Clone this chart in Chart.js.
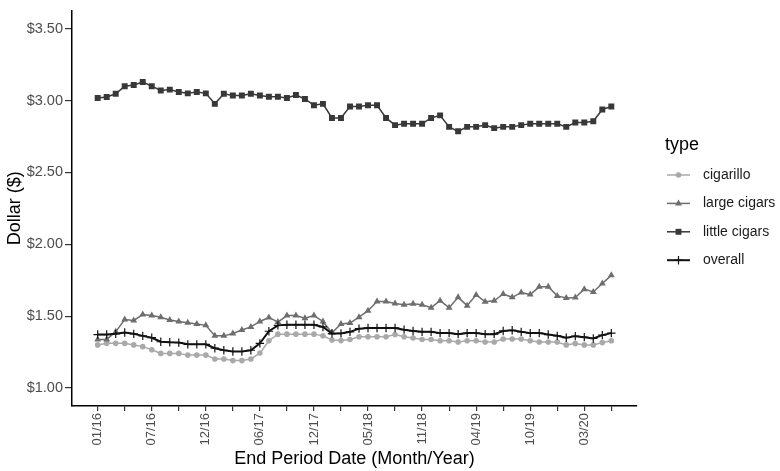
<!DOCTYPE html>
<html>
<head>
<meta charset="utf-8">
<script src="https://cdn.jsdelivr.net/npm/chart.js@4.4.1/dist/chart.umd.min.js"></script>
<style>
  html, body { margin: 0; padding: 0; background: #fff; }
  canvas { display: block; }
</style>
</head>
<body>
<canvas id="myChart" width="780" height="471"></canvas>
<script>
// 4-week periods, Jan 2016 .. Jun 2020 (58 periods)
const periods = Array.from({length: 58}, (_, i) => i)
const tickLabels = ['01/16', '07/16', '12/16', '06/17', '12/17', '05/18', '11/18', '04/19', '10/19', '03/20']
const yTicks = [1.0, 1.5, 2.0, 2.5, 3.0, 3.5]

const cigarillo = [
  1.300, 1.311, 1.311, 1.311, 1.300, 1.288, 1.266, 1.241, 1.241, 1.241,
  1.229, 1.229, 1.229, 1.202, 1.202, 1.191, 1.191, 1.202, 1.243, 1.329,
  1.375, 1.375, 1.375, 1.375, 1.375, 1.363, 1.334, 1.330, 1.338, 1.357,
  1.357, 1.357, 1.357, 1.372, 1.357, 1.348, 1.338, 1.338, 1.329, 1.329,
  1.320, 1.329, 1.329, 1.320, 1.320, 1.341, 1.341, 1.341, 1.329, 1.320,
  1.320, 1.320, 1.300, 1.309, 1.300, 1.300, 1.316, 1.329
]
const largeCigars = [
  1.338, 1.338, 1.391, 1.477, 1.470, 1.511, 1.504, 1.493, 1.474, 1.463,
  1.454, 1.445, 1.436, 1.363, 1.363, 1.379, 1.404, 1.425, 1.463, 1.491,
  1.459, 1.504, 1.504, 1.486, 1.504, 1.463, 1.384, 1.445, 1.452, 1.493,
  1.538, 1.602, 1.602, 1.588, 1.579, 1.586, 1.579, 1.559, 1.607, 1.559,
  1.631, 1.573, 1.648, 1.600, 1.607, 1.654, 1.631, 1.665, 1.650, 1.704,
  1.704, 1.641, 1.627, 1.629, 1.688, 1.668, 1.727, 1.784
]
const littleCigars = [
  3.018, 3.025, 3.047, 3.100, 3.108, 3.129, 3.100, 3.070, 3.076, 3.060,
  3.050, 3.060, 3.050, 2.977, 3.047, 3.035, 3.035, 3.047, 3.035, 3.027,
  3.027, 3.018, 3.038, 3.011, 2.967, 2.977, 2.879, 2.879, 2.958, 2.958,
  2.967, 2.967, 2.879, 2.829, 2.838, 2.838, 2.838, 2.879, 2.897, 2.817,
  2.786, 2.817, 2.817, 2.829, 2.808, 2.817, 2.817, 2.829, 2.838, 2.838,
  2.838, 2.838, 2.817, 2.847, 2.847, 2.856, 2.938, 2.958
]
const overall = [
  1.372, 1.372, 1.377, 1.386, 1.377, 1.363, 1.350, 1.322, 1.318, 1.316,
  1.304, 1.304, 1.304, 1.277, 1.263, 1.254, 1.254, 1.263, 1.311, 1.395,
  1.436, 1.440, 1.440, 1.440, 1.440, 1.425, 1.379, 1.380, 1.391, 1.413,
  1.418, 1.418, 1.418, 1.418, 1.406, 1.397, 1.391, 1.391, 1.382, 1.382,
  1.375, 1.382, 1.382, 1.375, 1.375, 1.397, 1.402, 1.391, 1.382, 1.382,
  1.372, 1.363, 1.350, 1.361, 1.354, 1.345, 1.368, 1.382
]

const FONT = 'Arial, "Liberation Sans", sans-serif'
const tickPositions = periods.filter(p => p % 3 === 0)

function series(label, values, color, style, radius, lineWidth, order) {
  return {
    label: label,
    data: values,
    borderColor: color,
    backgroundColor: color,
    borderWidth: lineWidth,
    pointStyle: style,
    pointRadius: radius,
    pointBackgroundColor: color,
    pointBorderColor: color,
    pointBorderWidth: style === 'cross' ? 1.2 : 0,
    tension: 0,
    order: order
  }
}

function marker(c, style, x, y, r) {
  c.beginPath()
  if (style === 'circle') {
    c.arc(x, y, r, 0, Math.PI * 2)
    c.fill()
  } else if (style === 'rect') {
    const s = Math.SQRT1_2 * r
    c.rect(x - s, y - s, 2 * s, 2 * s)
    c.fill()
  } else if (style === 'triangle') {
    let a = 0
    c.moveTo(x + Math.sin(a) * r, y - Math.cos(a) * r)
    a += Math.PI * 2 / 3
    c.lineTo(x + Math.sin(a) * r, y - Math.cos(a) * r)
    a += Math.PI * 2 / 3
    c.lineTo(x + Math.sin(a) * r, y - Math.cos(a) * r)
    c.closePath()
    c.fill()
  } else if (style === 'cross') {
    c.lineWidth = 1.2
    c.moveTo(x, y - r); c.lineTo(x, y + r)
    c.moveTo(x - r, y); c.lineTo(x + r, y)
    c.stroke()
  }
}

// ggplot-style legend on the right
const typeLegend = {
  id: 'typeLegend',
  afterDraw(chart) {
    const c = chart.ctx
    c.save()
    c.textBaseline = 'middle'
    c.fillStyle = '#000'
    c.font = '18px ' + FONT
    c.fillText('type', 665, 145)
    c.font = '14px ' + FONT
    chart.data.datasets.forEach((ds, i) => {
      const y = 175 + i * 28.4
      c.strokeStyle = ds.borderColor
      c.fillStyle = ds.borderColor
      c.lineWidth = ds.borderWidth
      c.beginPath()
      c.moveTo(667, y); c.lineTo(690, y)
      c.stroke()
      marker(c, ds.pointStyle, 678.5, y, ds.pointRadius)
      c.fillStyle = '#1a1a1a'
      c.fillText(ds.label, 703, y)
    })
    c.restore()
  }
}

const ctx = document.getElementById('myChart')
new Chart(ctx, {
  type: 'line',
  data: {
    labels: periods,
    datasets: [
      series('cigarillo', cigarillo, '#a9a9a9', 'circle', 2.8, 1.5, 3),
      series('large cigars', largeCigars, '#6e6e6e', 'triangle', 4, 1.5, 2),
      series('little cigars', littleCigars, '#383838', 'rect', 4.2, 1.5, 1),
      series('overall', overall, '#111111', 'cross', 4.2, 2, 0)
    ]
  },
  options: {
    responsive: false,
    animation: false,
    layout: {padding: {top: 2, right: 143, left: 0, bottom: 0}},
    plugins: {legend: {display: false}, tooltip: {enabled: false}},
    scales: {
      x: {
        type: 'linear',
        min: -2.85,
        max: 59.85,
        afterBuildTicks: s => { s.ticks = tickPositions.map(v => ({value: v})) },
        afterFit: s => { s.height = 65 },
        grid: {drawOnChartArea: false, drawTicks: true, tickLength: 5, color: '#333', lineWidth: 1.2},
        border: {display: true, color: '#000', width: 1.5},
        ticks: {
          autoSkip: false, maxRotation: 90, minRotation: 90, padding: 2,
          color: '#4d4d4d', font: {family: FONT, size: 13},
          callback: v => v % 6 === 0 ? tickLabels[v / 6] : ''
        },
        title: {
          display: true, text: 'End Period Date (Month/Year)', color: '#000',
          font: {family: FONT, size: 18}, padding: {top: 0, bottom: 1}
        }
      },
      y: {
        min: 0.875,
        max: 3.625,
        afterBuildTicks: s => { s.ticks = yTicks.map(v => ({value: v})) },
        afterFit: s => { s.width = 72 },
        grid: {drawOnChartArea: false, drawTicks: true, tickLength: 7, color: '#333', lineWidth: 1.2},
        border: {display: true, color: '#000', width: 1.5},
        ticks: {
          padding: 2, color: '#4d4d4d', font: {family: FONT, size: 14.5},
          callback: v => '$' + v.toFixed(2)
        },
        title: {
          display: true, text: 'Dollar ($)', color: '#000',
          font: {family: FONT, size: 18}, padding: {top: 4, bottom: 0}
        }
      }
    }
  },
  plugins: [typeLegend]
})
</script>
</body>
</html>
